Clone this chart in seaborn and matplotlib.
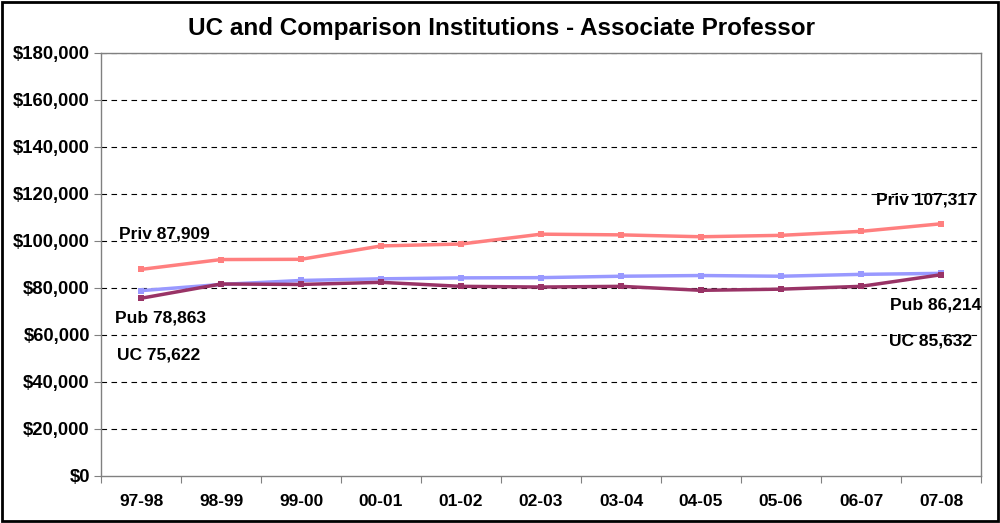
import matplotlib
matplotlib.use("Agg")
import matplotlib.pyplot as plt
import seaborn as sns
import pandas as pd
from matplotlib.ticker import FuncFormatter, FixedLocator
from matplotlib.patches import Rectangle

years = ["97-98", "98-99", "99-00", "00-01", "01-02", "02-03", "03-04", "04-05", "05-06", "06-07", "07-08"]
priv = [87909, 92100, 92200, 97900, 98700, 102900, 102600, 101800, 102400, 104100, 107317]
pub = [78863, 81500, 83200, 83900, 84300, 84400, 85000, 85300, 85000, 85800, 86214]
uc = [75622, 81700, 81500, 82400, 80700, 80400, 80700, 79000, 79500, 80700, 85632]

series_names = ["Priv", "Pub", "UC"]
colors = {"Priv": "#FF7F7F", "Pub": "#9999FF", "UC": "#993366"}

df = pd.DataFrame({
    "x": list(range(len(years))) * 3,
    "value": priv + pub + uc,
    "series": ["Priv"] * len(years) + ["Pub"] * len(years) + ["UC"] * len(years),
})

sns.set_theme(style="white")
plt.rcParams["font.family"] = ["Liberation Sans", "DejaVu Sans"]
plt.rcParams["text.color"] = "black"
plt.rcParams["xtick.color"] = "black"
plt.rcParams["ytick.color"] = "black"

fig = plt.figure(figsize=(10, 5.23), dpi=100)
ax = fig.add_axes([0.101, 0.0899, 0.880, 0.8088])

sns.lineplot(data=df, x="x", y="value", hue="series", palette=colors,
             hue_order=["Priv", "Pub", "UC"], marker="s", markersize=5,
             markeredgewidth=0, linewidth=2.5, legend=False, ax=ax)

ax.set_xlim(-0.5, len(years) - 0.5)
ax.set_ylim(0, 180000)
ax.set_yticks(range(0, 180001, 20000))
ax.yaxis.set_major_formatter(FuncFormatter(lambda v, p: "$0" if v == 0 else f"${int(v):,}"))
ax.set_xticks(range(len(years)))
ax.set_xticklabels(years)
ax.xaxis.set_minor_locator(FixedLocator([i - 0.5 for i in range(len(years) + 1)]))
ax.tick_params(axis="x", which="major", length=0, pad=13, labelsize=12.5, labelcolor="black")
ax.tick_params(axis="x", which="minor", length=5, width=0.8, color="#808080", direction="out", bottom=True)
ax.tick_params(axis="y", which="major", length=5, width=0.8, color="#808080", direction="out", left=True,
               labelsize=13.3, pad=3, labelcolor="black")
for lab in ax.get_xticklabels() + ax.get_yticklabels():
    lab.set_fontweight("bold")
ax.set_xlabel("")
ax.set_ylabel("")

for v in range(20000, 180001, 20000):
    ax.axhline(v, color="black", linestyle=(0, (5, 4)), linewidth=0.8, zorder=0)

for s in ax.spines.values():
    s.set_color("#808080")
    s.set_linewidth(1.0)

fig.text(0.502, 0.946, "UC and Comparison Institutions - Associate Professor", fontsize=17.5,
         fontweight="bold", color="black", ha="center", va="center")

tkw = dict(fontsize=12.5, fontweight="bold", color="black", va="center")
ax.text(-0.28, 102900, f"Priv {priv[0]:,}", ha="left", **tkw)
ax.text(-0.32, 67300, f"Pub {pub[0]:,}", ha="left", **tkw)
ax.text(-0.30, 51500, f"UC {uc[0]:,}", ha="left", **tkw)
ax.text(10.45, 117400, f"Priv {priv[-1]:,}", ha="right", **tkw)
ax.text(10.50, 72800, f"Pub {pub[-1]:,}", ha="right", **tkw)
ax.text(10.39, 57500, f"UC {uc[-1]:,}", ha="right", **tkw)

fig.patches.append(Rectangle((0.002, 0.003), 0.996, 0.994, transform=fig.transFigure,
                             fill=False, edgecolor="black", linewidth=2))

fig.savefig("out.png", dpi=100, facecolor="white")
